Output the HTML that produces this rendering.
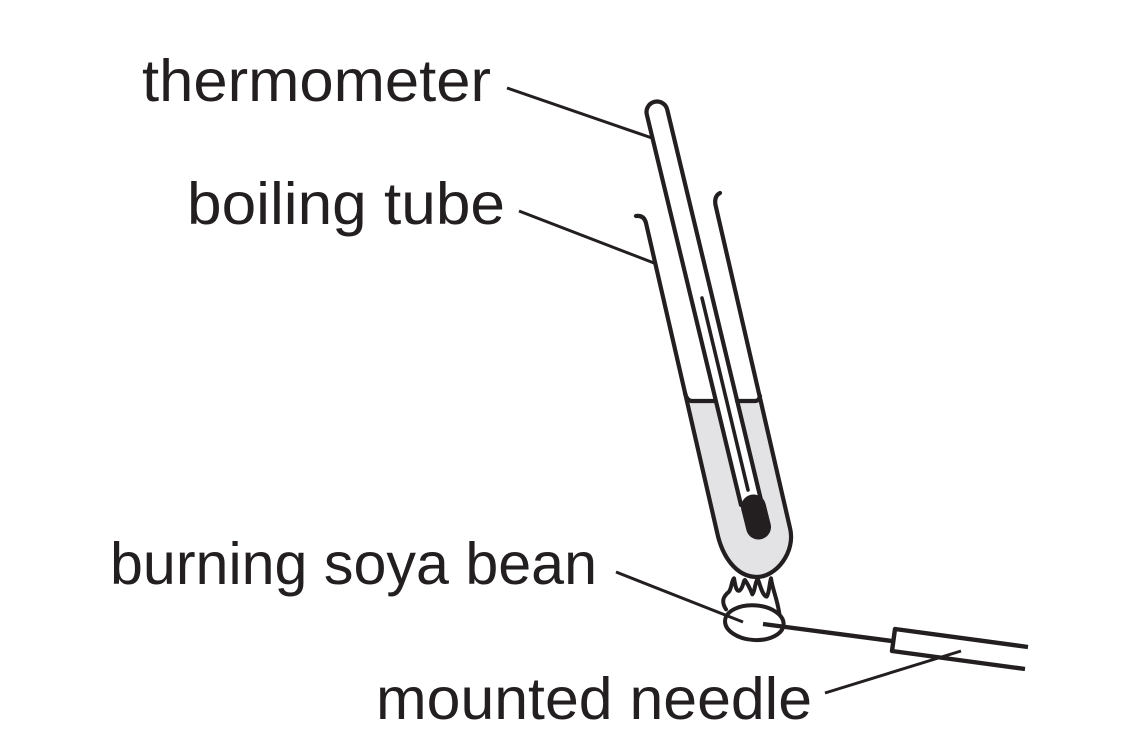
<!DOCTYPE html>
<html><head><meta charset="utf-8"><style>html,body{margin:0;padding:0;background:#fff}svg{display:block}text{font-family:"Liberation Sans",sans-serif;font-size:59px;fill:#231f20}</style></head>
<body><svg width="1123" height="755" viewBox="0 0 1123 755" xmlns="http://www.w3.org/2000/svg">
<path d="M687 401 L760 401 L790 528 C796 552 776 577 757 577 C736 577 722 556 717 532 Z" fill="#e3e3e5"/>
<path d="M716 401 L741 505 L761 500 L737 401 Z" fill="#fff"/>
<g fill="none" stroke="#231f20" stroke-width="4.2" stroke-linecap="round" stroke-linejoin="round">
<path d="M636 216 Q644 215 646 223 L717 532 C722 556 736 577 757 577 C776 577 796 552 790 528 L715.5 205 Q714 196 720 193"/>
<path d="M685 393 Q687 401 692 401 L714 401 M737 401 L755 401 Q759 401 760 396"/>
<path d="M741 505 L646.8 114.5 A10.5 10.5 0 0 1 667.2 109.5 L761 500"/>
<path d="M702 298 L748 490" stroke-width="3.6"/>
</g>
<path d="M753.5 507 L758.5 527" stroke="#231f20" stroke-width="25" stroke-linecap="round" fill="none"/>
<g transform="translate(660 480) scale(.3333)" fill="none" stroke="#231f20" stroke-width="12" stroke-linejoin="round" stroke-linecap="round">
<path d="M198 388 C180 360 195 345 207 335 C215 325 215 300 222 295 C226 315 228 335 238 332 C250 325 250 300 255 300 C262 310 272 330 277 343 C285 335 285 305 293 297 C300 310 305 345 320 350 C328 340 328 310 333 295 C338 330 350 350 358 400"/>
<ellipse cx="283" cy="428" rx="88" ry="52" transform="rotate(4 283 428)"/>
</g>
<g fill="none" stroke="#231f20" stroke-linecap="butt" stroke-linejoin="round">
<path d="M507 88 L652 138 M519 211 L654 263 M616 572 L743 622 M825 693 L961 651" stroke-width="3"/>
<path d="M763 624 L892 641" stroke-width="4.4"/>
<path d="M1028 647 L895 629 L892 651 L1025 669" stroke-width="4.4"/>
</g>
<text x="142" y="101" textLength="349" lengthAdjust="spacingAndGlyphs">thermometer</text>
<text x="187" y="224" textLength="318" lengthAdjust="spacingAndGlyphs">boiling tube</text>
<text x="110" y="584" textLength="487" lengthAdjust="spacingAndGlyphs">burning soya bean</text>
<text x="376" y="719" textLength="436" lengthAdjust="spacingAndGlyphs">mounted needle</text>
</svg></body></html>
